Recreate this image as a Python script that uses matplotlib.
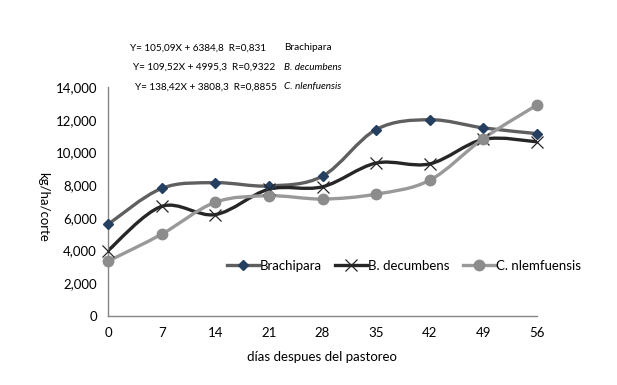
import matplotlib
matplotlib.use("Agg")
import matplotlib.pyplot as plt
import numpy as np
from matplotlib.path import Path
from matplotlib.patches import PathPatch
from matplotlib.lines import Line2D

plt.rcParams['font.family'] = ['Lato', 'DejaVu Sans']

dias = [0, 7, 14, 21, 28, 35, 42, 49, 56]
brachipara = [5600, 7800, 8150, 7950, 8550, 11400, 12000, 11500, 11150]
decumbens = [4000, 6700, 6200, 7750, 7900, 9350, 9300, 10800, 10650]
nlemfuensis = [3350, 5000, 6950, 7350, 7150, 7450, 8300, 10850, 12900]
yticks = [0, 2000, 4000, 6000, 8000, 10000, 12000, 14000]
ecuaciones = ["Y= 105,09X + 6384,8  R=0,831", "Y= 109,52X + 4995,3  R=0,9322", "Y= 138,42X + 3808,3  R=0,8855"]
especies_eq = ["Brachipara", "B. decumbens", "C. nlenfuensis"]
labels = ["Brachipara", "B. decumbens", "C. nlemfuensis"]

fig = plt.figure(figsize=(6.17, 3.85), dpi=100)
ax = fig.add_axes([108/617, 1-316/385, (537-108)/617, (316-87)/385])


def smooth_path(x, y):
    # Excel-style smoothed line: cubic Bezier segments through the points (in display space)
    pts = ax.transData.transform(np.column_stack([x, y]))
    n = len(pts)
    verts = [pts[0]]
    codes = [Path.MOVETO]
    for i in range(n - 1):
        p0 = pts[i - 1] if i > 0 else pts[i]
        p1 = pts[i]
        p2 = pts[i + 1]
        p3 = pts[i + 2] if i + 2 < n else pts[i + 1]
        c1 = p1 + (p2 - p0) / 6.0
        c2 = p2 - (p3 - p1) / 6.0
        verts += [c1, c2, p2]
        codes += [Path.CURVE4] * 3
    return Path(verts, codes)


ax.set_xlim(0, 56)
ax.set_ylim(0, 14000)
fig.canvas.draw()

series = [
    (brachipara, '#5f5f5f', 'D', '#243f60', '#243f60', 5, 1.0),
    (decumbens, '#262626', 'x', '#262626', '#262626', 8, 0.9),
    (nlemfuensis, '#999999', 'o', '#8c8c8c', '#8c8c8c', 7.5, 1.0),
]
handles = []
for (vals, lc, mk, mfc, mec, ms, mew), lab in zip(series, labels):
    p = smooth_path(dias, vals)
    patch = PathPatch(p, facecolor='none', edgecolor=lc, lw=2.4, transform=None, zorder=2)
    ax.add_artist(patch)
    ax.plot(dias, vals, linestyle='none', marker=mk, markersize=ms, markerfacecolor=mfc,
            markeredgecolor=mec, markeredgewidth=mew, zorder=3, clip_on=False)
    handles.append(Line2D([], [], color=lc, lw=2.4, marker=mk, markersize=ms,
                          markerfacecolor=mfc, markeredgecolor=mec, markeredgewidth=mew))

ax.set_xticks(dias)
ax.set_yticks(yticks)
ax.set_yticklabels([f"{v:,}" for v in yticks])
ax.tick_params(length=0, labelsize=9.5, colors='#000000', pad=8)
for s in ['top', 'right']:
    ax.spines[s].set_visible(False)
for s in ['left', 'bottom']:
    ax.spines[s].set_color('#868686')
    ax.spines[s].set_linewidth(1.0)

fig.text(322/617, 1-357/385, "días despues del pastoreo", ha='center', va='center', fontsize=9.5)
fig.text(43/617, 1-207/385, "kg/ha/corte", ha='center', va='center', fontsize=9.5, rotation=-90)

leg = fig.legend(handles, labels, loc='center left', bbox_to_anchor=(227/617, 1-266/385),
                 ncol=3, frameon=False, fontsize=9.5, handlelength=2.4, handletextpad=0.1,
                 columnspacing=1.0, borderpad=0, borderaxespad=0)

eq_y = [48, 67, 87]
eq_x = [130, 133, 135]
for e, s, yy, xx, st in zip(ecuaciones, especies_eq, eq_y, eq_x, ['normal', 'italic', 'italic']):
    fig.text(xx/617, 1-yy/385, e, ha='left', va='center', fontsize=7.2)
    fig.text(284/617, 1-yy/385, s, ha='left', va='center', fontsize=7.2, style=st)

fig.savefig("out.png", dpi=100)
